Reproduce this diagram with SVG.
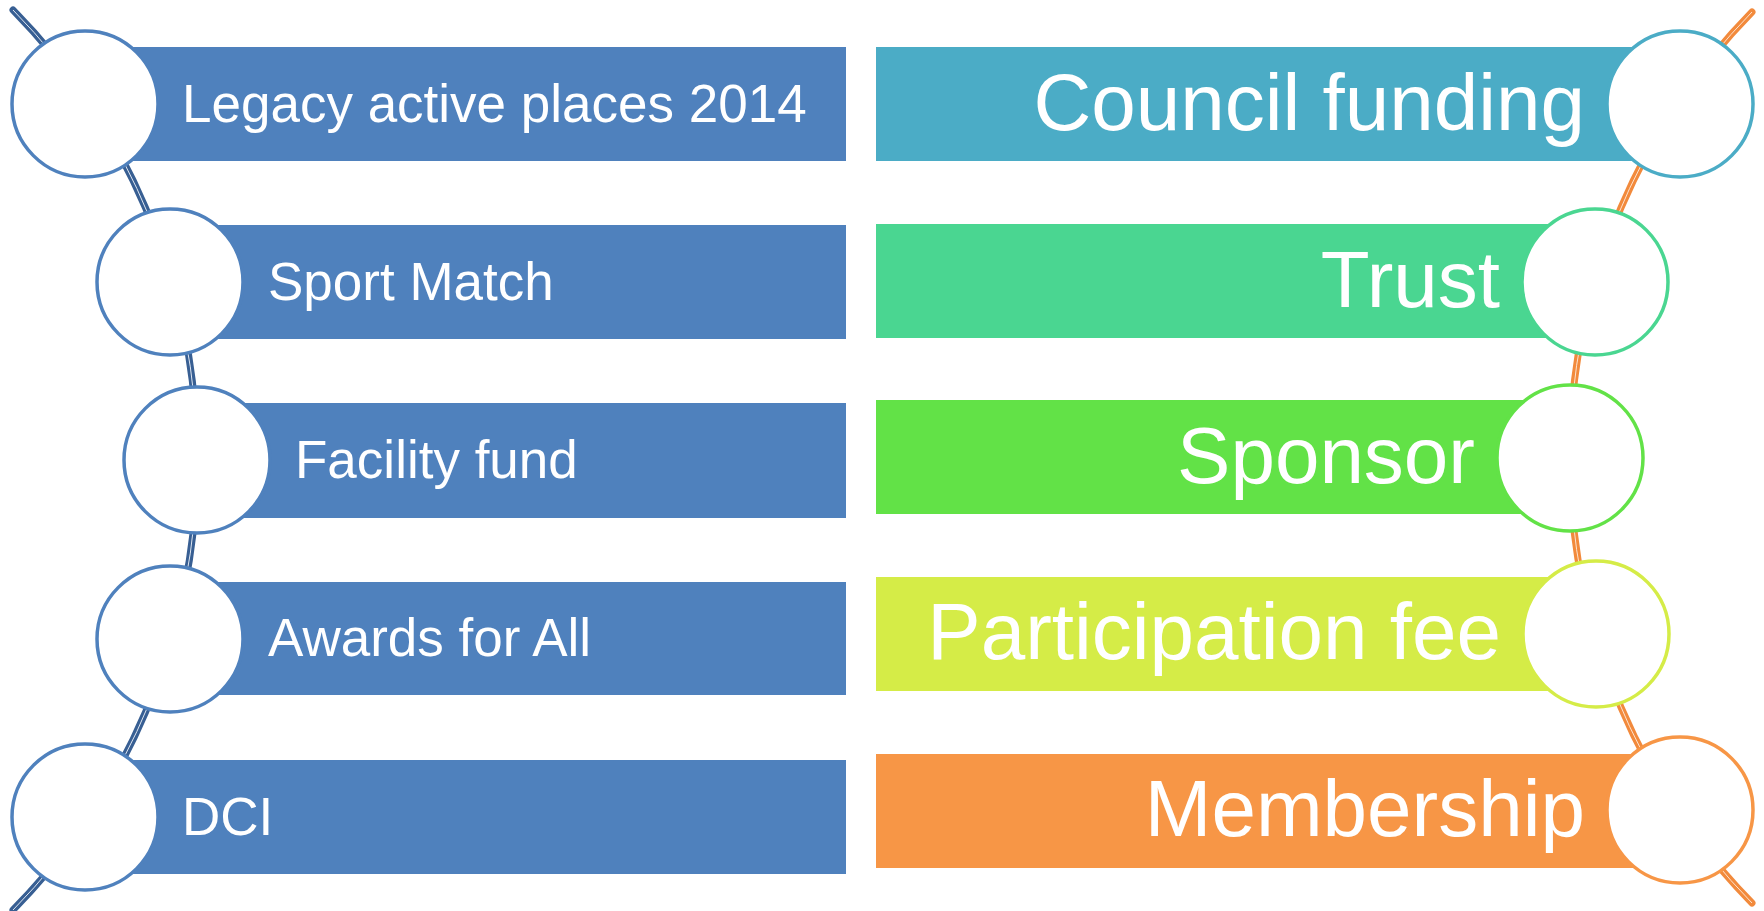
<svg xmlns="http://www.w3.org/2000/svg" width="1764" height="911" viewBox="0 0 1764 911">
<style>
.lt{font-family:"Liberation Sans",Arial,sans-serif;font-size:53px;fill:#fff}
.rt{font-family:"Liberation Sans",Arial,sans-serif;font-size:80px;fill:#fff;text-anchor:end}
.c{fill:#fff;stroke-width:3.5}
.lc{stroke:#4f81bd}
.lr{fill:#4f81bd}
</style>
<rect width="1764" height="911" fill="#fff"/>
<g id="connectors" fill="none">
<path d="M 13 10 A 642 642 0 0 1 13 910" stroke="#385f93" stroke-width="7" stroke-linecap="round"/>
<path d="M 13 10 A 642 642 0 0 1 13 910" stroke="#dfe7f2" stroke-width="1"/>
<path d="M 1752 12 A 636 636 0 0 0 1752 903" stroke="#f28a3c" stroke-width="7" stroke-linecap="round"/>
<path d="M 1752 12 A 636 636 0 0 0 1752 903" stroke="#fde3cf" stroke-width="1"/>
</g>
<g id="n1"><rect class="lr" x="85" y="47" width="761" height="114"/><circle class="c lc" cx="85" cy="104" r="73"/><text class="lt" x="182" y="122">Legacy active places 2014</text></g>
<g id="n2"><rect class="lr" x="170" y="225" width="676" height="114"/><circle class="c lc" cx="170" cy="282" r="73"/><text class="lt" x="268" y="300">Sport Match</text></g>
<g id="n3"><rect class="lr" x="197" y="403" width="649" height="115"/><circle class="c lc" cx="197" cy="460" r="73"/><text class="lt" x="295" y="478">Facility fund</text></g>
<g id="n4"><rect class="lr" x="170" y="582" width="676" height="113"/><circle class="c lc" cx="170" cy="639" r="73"/><text class="lt" x="268" y="656">Awards for All</text></g>
<g id="n5"><rect class="lr" x="85" y="760" width="761" height="114"/><circle class="c lc" cx="85" cy="817" r="73"/><text class="lt" x="182" y="835">DCI</text></g>
<g id="n6"><rect fill="#4bacc6" x="876" y="47" width="804" height="114"/><circle class="c" stroke="#4bacc6" cx="1680" cy="104" r="73"/><text class="rt" x="1585" y="130">Council funding</text></g>
<g id="n7"><rect fill="#4ad691" x="876" y="224" width="719" height="114"/><circle class="c" stroke="#4ad691" cx="1595" cy="282" r="73"/><text class="rt" x="1500" y="307">Trust</text></g>
<g id="n8"><rect fill="#62e247" x="876" y="400" width="694" height="114"/><circle class="c" stroke="#62e247" cx="1570" cy="458" r="73"/><text class="rt" x="1475" y="483">Sponsor</text></g>
<g id="n9"><rect fill="#d5ec47" x="876" y="577" width="720" height="114"/><circle class="c" stroke="#d5ec47" cx="1596" cy="634" r="73"/><text class="rt" x="1501" y="659">Participation fee</text></g>
<g id="n10"><rect fill="#f79646" x="876" y="754" width="804" height="114"/><circle class="c" stroke="#f79646" cx="1680" cy="810" r="73"/><text class="rt" x="1585" y="836">Membership</text></g>
</svg>
